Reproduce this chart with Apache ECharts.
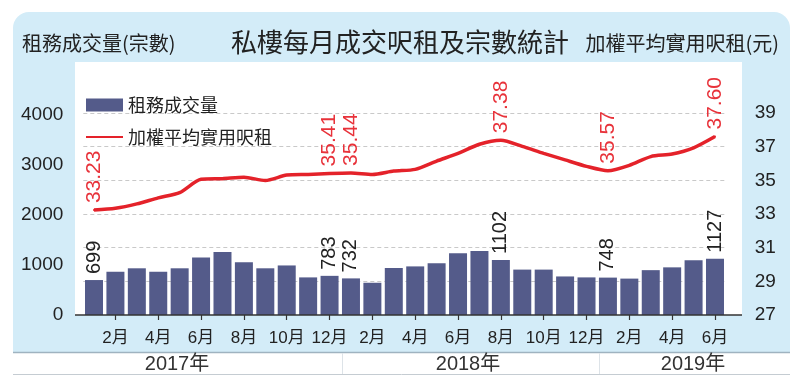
<!DOCTYPE html>
<html><head><meta charset="utf-8">
<script src="https://cdn.jsdelivr.net/npm/echarts@6/dist/echarts.min.js"></script>
<style>html,body{margin:0;padding:0;background:#fff}#c{width:800px;height:388px}</style>
</head><body><div id="c"></div>
<script>
const months = ['1月','2月','3月','4月','5月','6月','7月','8月','9月','10月','11月','12月',
  '1月','2月','3月','4月','5月','6月','7月','8月','9月','10月','11月','12月',
  '1月','2月','3月','4月','5月','6月'];
const years = ['2017年','2018年','2019年'];
const volume = [699,865,934,865,934,1152,1260,1053,934,991,752,783,
  732,645,940,972,1034,1235,1278,1102,908,908,771,752,
  748,728,897,953,1096,1127];
const rent = [33.23,33.34,33.60,33.96,34.27,35.06,35.10,35.18,34.99,35.31,35.35,35.41,
  35.44,35.35,35.55,35.65,36.14,36.60,37.14,37.38,37.02,36.60,36.21,35.83,
  35.57,35.89,36.41,36.56,36.93,37.60];
const volumeLabelIdx = [0,11,12,19,24,29];
const rentLabelIdx = [0,11,12,19,24,29];
const leftTickLabels = [0,1000,2000,3000,4000];
const rightTickLabels = [27,29,31,33,35,37,39];
const seriesNames = ['租務成交量','加權平均實用呎租'];
const titleText = '私樓每月成交呎租及宗數統計';
const leftHeader = '租務成交量(宗數)';
const rightHeader = '加權平均實用呎租(元)';

const FONT = "'Liberation Sans','Noto Sans CJK TC',sans-serif";
const CJK = "'Noto Sans CJK TC','Liberation Sans',sans-serif";
const BAR = '#545b8a';
const RED = '#e4222a';

const chart = echarts.init(document.getElementById('c'), null, {renderer:'canvas'});
const yearX = [177, 468, 693];

const option = {
  animation: false,
  textStyle: {fontFamily: FONT},
  graphic: [
    {type:'rect', z:-100, shape:{x:13,y:12,width:777,height:340,r:[16,16,0,0]}, style:{fill:'#d3ecf8'}},
    {type:'rect', z:-99, shape:{x:75,y:62,width:667,height:253}, style:{fill:'#ffffff'}},
    {type:'rect', z:-99, shape:{x:13,y:352,width:777,height:22}, style:{fill:'#ffffff'}},
    {type:'line', z:-98, shape:{x1:13,y1:352.5,x2:790,y2:352.5}, style:{stroke:'#9fb3c0',lineWidth:1.5}},
    {type:'line', z:-98, shape:{x1:13,y1:374.5,x2:790,y2:374.5}, style:{stroke:'#c5ccd2',lineWidth:1}},
    {type:'line', z:-98, shape:{x1:342.5,y1:353,x2:342.5,y2:374}, style:{stroke:'#dde3e8',lineWidth:1}},
    {type:'line', z:-98, shape:{x1:599.5,y1:353,x2:599.5,y2:374}, style:{stroke:'#dde3e8',lineWidth:1}},
    {type:'line', z:50, shape:{x1:75,y1:315,x2:742,y2:315}, style:{stroke:'#333',lineWidth:1.5}},
    {type:'text', z:50, x:400, y:42, style:{text:titleText, font:"26px "+CJK, fill:'#222', align:'center', verticalAlign:'middle'}},
    {type:'text', z:50, x:22, y:43, style:{text:leftHeader, font:"20px "+CJK, fill:'#222', align:'left', verticalAlign:'middle'}},
    {type:'text', z:50, x:779, y:43, style:{text:rightHeader, font:"20px "+CJK, fill:'#222', align:'right', verticalAlign:'middle'}},
    ...years.map((t,i)=>({type:'text', z:50, x:yearX[i], y:364, style:{text:t, font:"20px "+FONT, fill:'#333', align:'center', verticalAlign:'middle'}}))
  ],
  legend: {
    orient:'vertical', left:80, top:91, itemWidth:37, itemHeight:13, itemGap:14,
    textStyle:{fontSize:18, lineHeight:18, color:'#222', fontFamily:CJK},
    data:[{name:seriesNames[0], icon:'rect'},
          {name:seriesNames[1], itemStyle:{color:'rgba(0,0,0,0)', opacity:0, borderWidth:0}}]
  },
  grid: {left:83.3, right:74.3, top:79.3, bottom:73, containLabel:false},
  xAxis: {
    type:'category', data:months, boundaryGap:true,
    axisLine:{show:false},
    axisTick:{show:true, alignWithLabel:true, length:5, interval:(i)=>i%2===1, lineStyle:{color:'#333',width:1.2}},
    axisLabel:{interval:(i)=>i%2===1, fontSize:17, lineHeight:18, margin:14, color:'#222', fontFamily:FONT},
    splitLine:{show:false}
  },
  yAxis: [
    {type:'value', min:0, max:4714, interval:1000, position:'left',
     axisLine:{show:false}, axisTick:{show:false}, splitLine:{show:false},
     axisLabel:{margin:20, fontSize:19, color:'#222', fontFamily:FONT,
       formatter:(v)=> leftTickLabels.includes(v) ? String(v) : ''}},
    {type:'value', min:27, max:41, interval:2, position:'right',
     axisLine:{show:false}, axisTick:{show:false},
     splitLine:{show:true, showMinLine:false, showMaxLine:false, lineStyle:{color:'#c9c9c9', type:[4,3], width:1}},
     axisLabel:{margin:29, fontSize:19, color:'#222', align:'left', fontFamily:FONT,
       formatter:(v)=> rightTickLabels.includes(v) ? String(v) : ''}}
  ],
  series: [
    {name:seriesNames[0], type:'bar', yAxisIndex:0, barWidth:18, z:2,
     itemStyle:{color:BAR},
     data: volume.map((v,i)=>({value:v, label:{show: volumeLabelIdx.includes(i)}})),
     label:{position:'top', distance:6, rotate:90, align:'left', verticalAlign:'middle',
       fontSize:20, color:'#222', fontFamily:FONT}},
    {name:seriesNames[1], type:'line', yAxisIndex:1, symbol:'circle', symbolSize:2,
     showSymbol:true, showAllSymbol:true, smooth:0.25, z:5,
     lineStyle:{color:RED, width:3.5}, itemStyle:{color:RED},
     data: rent.map((v,i)=>({value:v, label:{show: rentLabelIdx.includes(i)}})),
     label:{show:false, position:'top', distance:6, rotate:90, align:'left', verticalAlign:'middle',
       fontSize:21, color:'#e8323a', fontFamily:FONT, formatter:(p)=>Number(p.value).toFixed(2)}}
  ]
};
chart.setOption(option);
</script></body></html>
